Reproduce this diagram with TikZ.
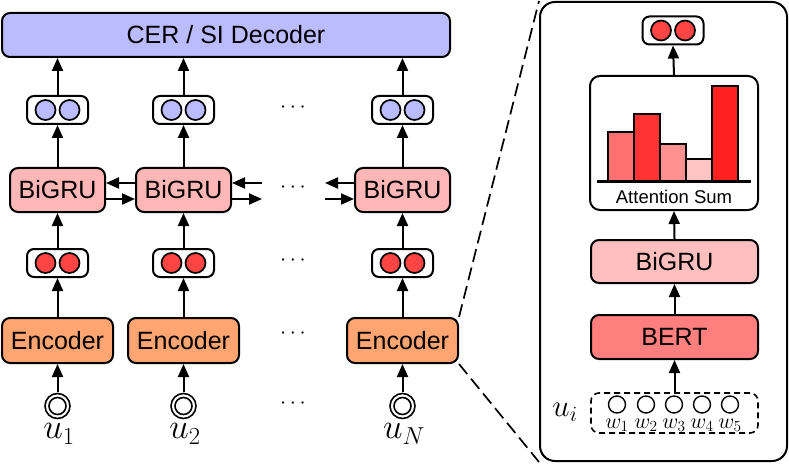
\RequirePackage{fix-cm}
\documentclass[tikz,border=0pt]{standalone}
\usepackage{fontspec}
\setmainfont{Liberation Sans}
\usetikzlibrary{arrows.meta}
\definecolor{decblue}{HTML}{BBBBFF}
\definecolor{grupink}{HTML}{FFB6B6}
\definecolor{encorange}{HTML}{FFA572}
\definecolor{vecred}{HTML}{FF4444}
\definecolor{pgru}{HTML}{FFBFBF}
\definecolor{bertred}{HTML}{FF7F7F}
\definecolor{barA}{HTML}{FF7070}
\definecolor{barB}{HTML}{FF3333}
\definecolor{barC}{HTML}{FF9090}
\definecolor{barD}{HTML}{FFC5C5}
\definecolor{barE}{HTML}{FF2020}
\begin{document}
\begin{tikzpicture}[x=1pt,y=-1pt,line width=2pt,
  >={Triangle[length=13pt,width=11pt]},
  blk/.style={draw, rounded corners=8pt, inner sep=0pt, font=\fontsize{25}{30}\selectfont},
  vecbox/.style={draw, rounded corners=7pt, inner sep=0pt, minimum width=61pt, minimum height=28pt},
  dotsl/.style={font=\fontsize{22}{26}\selectfont},
  ulab/.style={font=\fontsize{35}{40}\selectfont},
  wlab/.style={font=\fontsize{22}{25}\selectfont},
  arr/.style={->}]
\useasboundingbox (0,0) rectangle (789,465);

% decoder
\node[blk, fill=decblue, minimum width=448pt, minimum height=44pt] (dec) at (226,35) {CER / SI Decoder};

% columns
\foreach \i/\x in {1/57.5,2/183.5,3/402.5}{
  \node[vecbox] (bv\i) at (\x,110) {};
  \draw[fill=decblue, line width=1.7pt] ([xshift=-12pt]bv\i.center) circle (10);
  \draw[fill=decblue, line width=1.7pt] ([xshift=12pt]bv\i.center) circle (10);
  \node[blk, fill=grupink, minimum width=95pt, minimum height=44pt] (g\i) at (\x,190) {BiGRU};
  \node[vecbox] (rv\i) at (\x,263) {};
  \draw[fill=vecred, line width=1.7pt] ([xshift=-12pt]rv\i.center) circle (10);
  \draw[fill=vecred, line width=1.7pt] ([xshift=12pt]rv\i.center) circle (10);
  \node[blk, fill=encorange, minimum width=111pt, minimum height=45pt] (e\i) at (\x,340.5) {Encoder};
  \node[minimum size=26pt, inner sep=0pt] (in\i) at (\x,406) {};
  \draw[line width=1.6pt] (in\i.center) circle (12.5);
  \draw[line width=1.6pt] (in\i.center) circle (8.5);
  \draw[arr] (in\i.north) -- (e\i.south);
  \draw[arr] (e\i.north) -- (rv\i.south);
  \draw[arr] (rv\i.north) -- (g\i.south);
  \draw[arr] (g\i.north) -- (bv\i.south);
  \draw[arr] (bv\i.north) -- (dec.south -| bv\i.north);
}
\node[ulab] (l1) at (59,434) {$u_1$};
\node[ulab] (l2) at (185,434) {$u_2$};
\node[ulab] (l3) at (404,434) {$u_N$};

% dots
\node[dotsl] (d1) at (293,108) {$\cdots$};
\node[dotsl] (d2) at (293,188) {$\cdots$};
\node[dotsl] (d3) at (293,261) {$\cdots$};
\node[dotsl] (d4) at (293,334) {$\cdots$};
\node[dotsl] (d5) at (293,404) {$\cdots$};

% recurrent arrows
\coordinate (r2u) at (262,183);
\coordinate (r2d) at (262,199);
\coordinate (l3u) at (325,183);
\coordinate (l3d) at (325,199);
\draw[arr] (g2.west |- r2u) -- (g1.east |- r2u);
\draw[arr] (g1.east |- r2d) -- (g2.west |- r2d);
\draw[arr] (r2u) -- (g2.east |- r2u);
\draw[arr] (g2.east |- r2d) -- (r2d);
\draw[arr] (g3.west |- l3u) -- (l3u);
\draw[arr] (l3d) -- (g3.west |- l3d);

% panel
\node[draw, rounded corners=15pt, minimum width=247pt, minimum height=459pt, inner sep=0pt] (panel) at (663.5,231.5) {};
\draw[dash pattern=on 13pt off 6pt, line width=1.7pt] (e3.north east) -- (panel.north west);
\draw[dash pattern=on 13pt off 6pt, line width=1.7pt] (e3.south east) -- (panel.south west);

\node[vecbox] (pv) at (673,30.5) {};
\draw[fill=vecred, line width=1.7pt] ([xshift=-12pt]pv.center) circle (10);
\draw[fill=vecred, line width=1.7pt] ([xshift=12pt]pv.center) circle (10);

\node[draw, rounded corners=10pt, minimum width=168pt, minimum height=134pt, inner sep=0pt] (att) at (674,143) {};
\draw[fill=barA] (608,182) rectangle (634,132);
\draw[fill=barB] (634,182) rectangle (660,114.5);
\draw[fill=barC] (660,182) rectangle (686,144);
\draw[fill=barD] (686,182) rectangle (712,159.5);
\draw[fill=barE] (712,182) rectangle (738,86);
\draw[line width=3pt] (597,182) -- (751,182);
\node[font=\fontsize{18.5}{22}\selectfont] (atxt) at (674,197) {Attention Sum};

\node[blk, fill=pgru, minimum width=167pt, minimum height=43pt] (pg) at (674.5,261.5) {BiGRU};
\node[blk, fill=bertred, minimum width=167pt, minimum height=44pt] (bert) at (674.5,337) {BERT};
\node[draw, dash pattern=on 6pt off 4pt, line width=1.6pt, rounded corners=8pt, minimum width=167pt, minimum height=40pt, inner sep=0pt] (ui) at (674.5,413) {};
\foreach \j/\x in {1/617,2/646,3/674,4/702,5/730}{
  \node[circle, draw, line width=1.4pt, minimum size=17pt, inner sep=0pt] (w\j) at (\x,404.5) {};
  \node[wlab, anchor=base] (wl\j) at (\x,428.5) {$w_\j$};
}
\node[ulab, font=\fontsize{31}{36}\selectfont] (uil) at (565,412) {$u_i$};

\draw[arr] (ui.north) -- (bert.south);
\draw[arr] (bert.north) -- (pg.south);
\draw[arr] (pg.north) -- (att.south);
\draw[arr] (att.north) -- (pv.south);
\end{tikzpicture}
\end{document}
